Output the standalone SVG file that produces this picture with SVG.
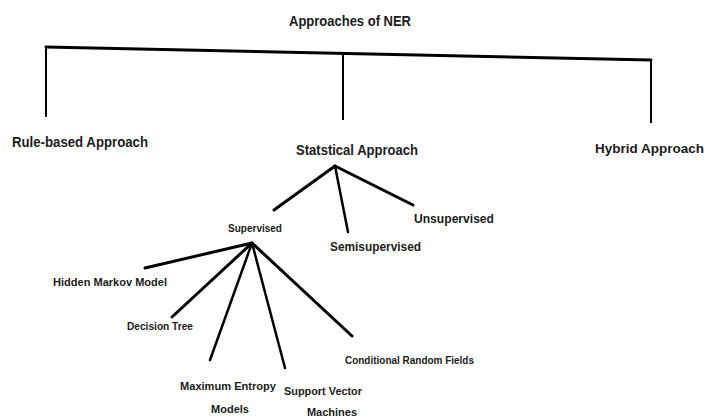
<svg xmlns="http://www.w3.org/2000/svg" width="709" height="420" viewBox="0 0 709 420">
<style>
text{font-family:"Liberation Sans",Arial,sans-serif;font-weight:bold;fill:#1c1c1c}
.t{font-size:15px}
.m{font-size:13px}
.s{font-size:11px}
.thick{stroke:#000;stroke-width:3;fill:none;stroke-linecap:round}
.thin{stroke:#000;stroke-width:2;fill:none}
.mid{stroke:#000;stroke-width:2.5;fill:none;stroke-linecap:round}
</style>
<rect width="709" height="420" fill="#fff"/>
<g id="connectors">
<line class="thick" x1="46" y1="47" x2="651" y2="60"/>
<line class="thin" x1="46" y1="46" x2="46" y2="117"/>
<line class="thin" x1="343" y1="53" x2="343" y2="120"/>
<line class="thin" x1="651" y1="60" x2="651" y2="123"/>
<line class="thick" x1="335" y1="166" x2="274" y2="210"/>
<line class="mid" x1="335" y1="166" x2="348" y2="232"/>
<line class="thick" x1="335" y1="166" x2="413" y2="205"/>
<line class="thick" x1="252" y1="243" x2="145" y2="268"/>
<line class="thick" x1="252" y1="243" x2="172" y2="317"/>
<line class="mid" x1="252" y1="243" x2="210" y2="360"/>
<line class="mid" x1="252" y1="243" x2="285" y2="368"/>
<line class="thick" x1="252" y1="243" x2="352" y2="336"/>
</g>
<g id="root"><text class="t" x="289" y="26" textLength="122" lengthAdjust="spacingAndGlyphs">Approaches of NER</text></g>
<g id="rule"><text class="t" x="12" y="147" textLength="136" lengthAdjust="spacingAndGlyphs">Rule-based Approach</text></g>
<g id="statistical"><text class="t" x="296" y="155" textLength="122" lengthAdjust="spacingAndGlyphs">Statstical Approach</text></g>
<g id="hybrid"><text x="704" y="153" text-anchor="end" font-size="13.5">Hybrid Approach</text></g>
<g id="supervised"><text class="s" x="228" y="232" textLength="54" lengthAdjust="spacingAndGlyphs">Supervised</text></g>
<g id="semisupervised"><text class="m" x="330" y="251" textLength="91" lengthAdjust="spacingAndGlyphs">Semisupervised</text></g>
<g id="unsupervised"><text class="m" x="414" y="223" textLength="80" lengthAdjust="spacingAndGlyphs">Unsupervised</text></g>
<g id="hmm"><text class="s" x="53" y="286" textLength="114" lengthAdjust="spacingAndGlyphs">Hidden Markov Model</text></g>
<g id="dt"><text class="s" x="127" y="330" textLength="66" lengthAdjust="spacingAndGlyphs">Decision Tree</text></g>
<g id="me"><text class="s" x="180" y="390" textLength="96" lengthAdjust="spacingAndGlyphs">Maximum Entropy</text><text class="s" x="230" y="413" text-anchor="middle">Models</text></g>
<g id="svm"><text class="s" x="284" y="395" textLength="78" lengthAdjust="spacingAndGlyphs">Support Vector</text><text class="s" x="332" y="416" text-anchor="middle">Machines</text></g>
<g id="crf"><text class="s" x="345" y="364" textLength="129" lengthAdjust="spacingAndGlyphs">Conditional Random Fields</text></g>
</svg>
